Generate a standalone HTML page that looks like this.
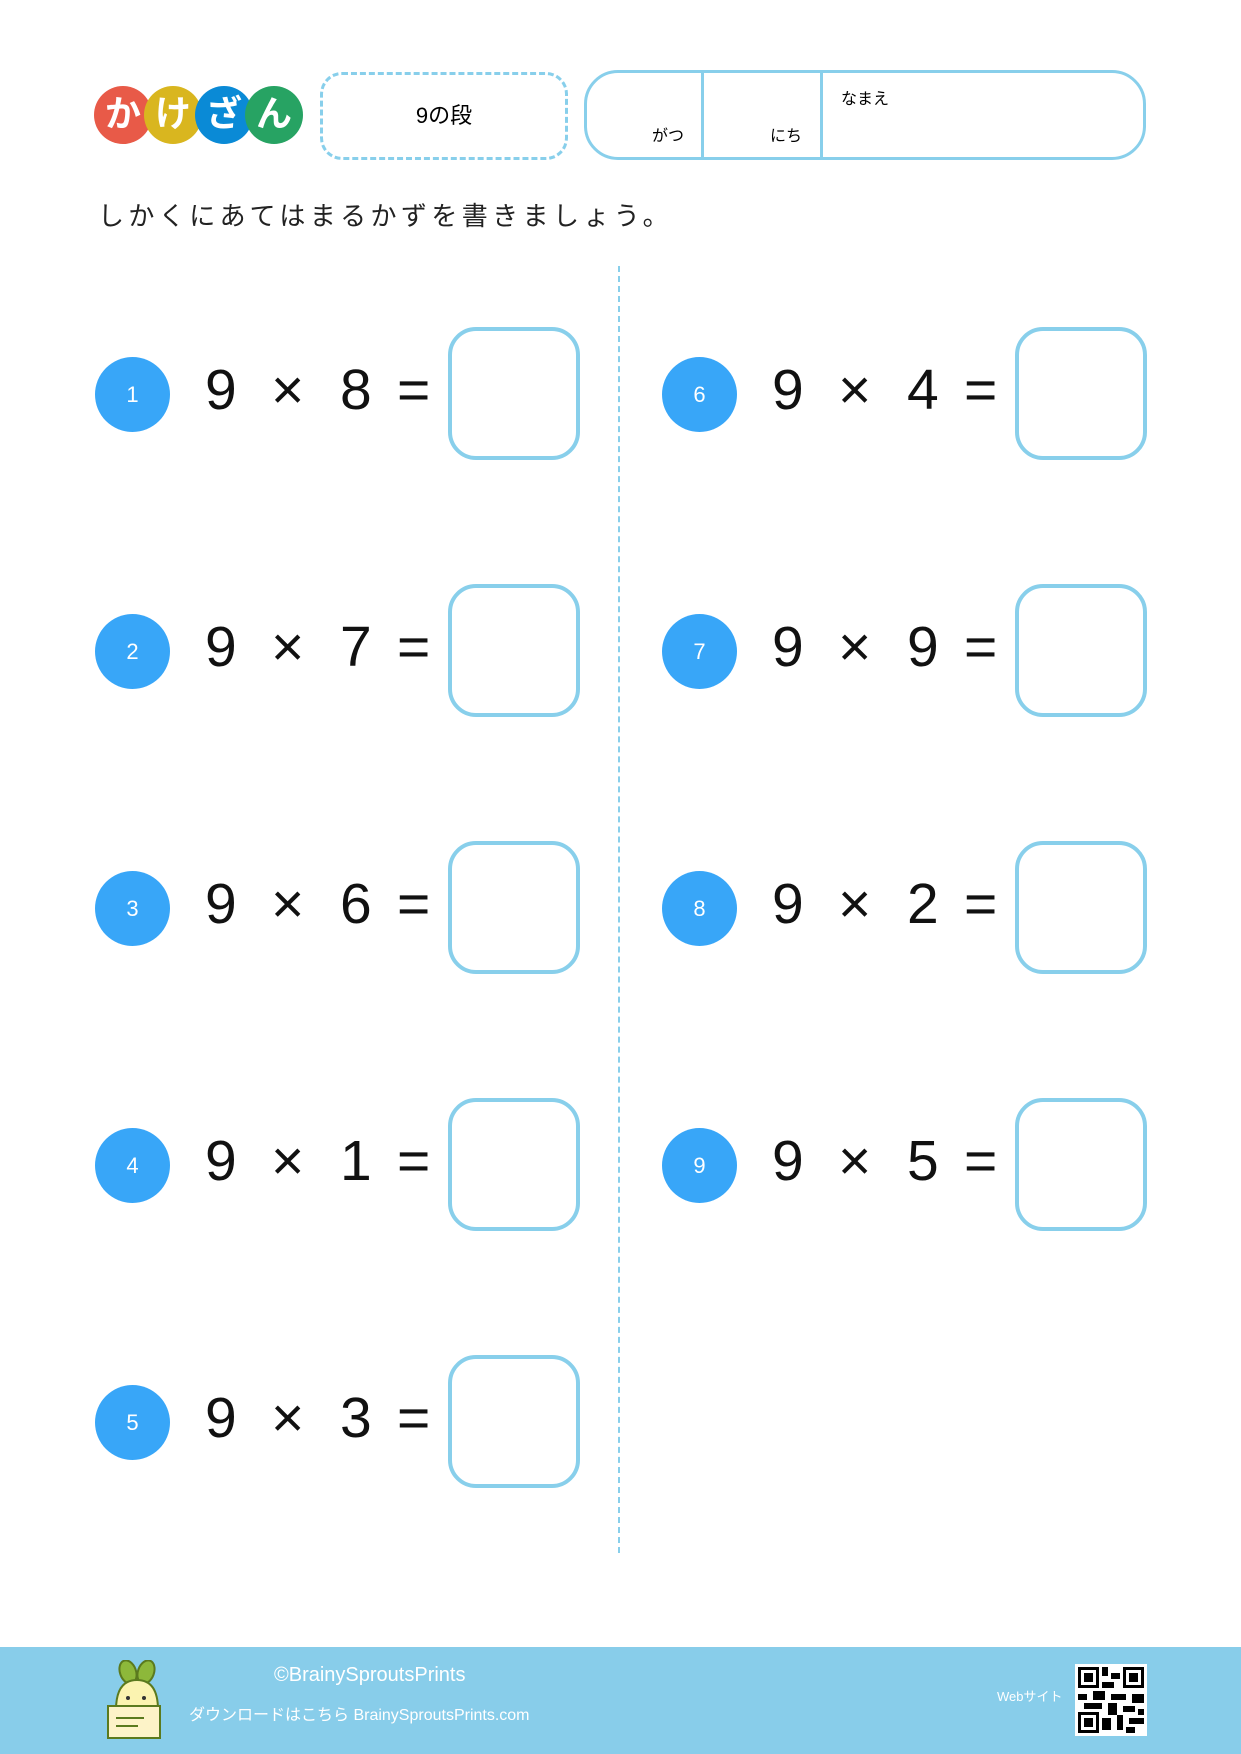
<!DOCTYPE html>
<html><head><meta charset="utf-8"><style>
*{margin:0;padding:0;box-sizing:border-box}
body{width:1241px;height:1754px;position:relative;background:#fff;font-family:"Liberation Sans","Noto Sans CJK JP",sans-serif;overflow:hidden}
.a{position:absolute}
.lc{position:absolute;width:58px;height:58px;border-radius:50%;color:#fff;font-size:36px;font-weight:bold;text-align:center;line-height:56px;top:86px}
.num{position:absolute;width:75px;height:75px;border-radius:50%;background:#38a6f8;color:#fff;font-size:22px;text-align:center;line-height:75px}
.box{position:absolute;width:132px;height:133px;border:4px solid #88cfeb;border-radius:28px}
.ex{position:absolute;font-size:57px;color:#111;line-height:1}
</style></head><body>
<div class="lc" style="left:94px;background:#e85a48">か</div>
<div class="lc" style="left:144px;background:#d9b61f">け</div>
<div class="lc" style="left:195px;background:#0a8ad6">ざ</div>
<div class="lc" style="left:245px;background:#27a363">ん</div>
<div class="a" style="left:320px;top:72px;width:248px;height:88px;border:3px dashed #88cfeb;border-radius:22px;text-align:center;line-height:82px;font-size:22px">9の段</div>
<div class="a" style="left:584px;top:70px;width:562px;height:90px;border:3px solid #88cfeb;border-radius:34px"></div>
<div class="a" style="left:701px;top:72px;width:3px;height:86px;background:#88cfeb"></div>
<div class="a" style="left:820px;top:72px;width:3px;height:86px;background:#88cfeb"></div>
<div class="a" style="left:652px;top:122px;font-size:16px">がつ</div>
<div class="a" style="left:770px;top:122px;font-size:16px">にち</div>
<div class="a" style="left:841px;top:85px;font-size:16px">なまえ</div>
<div class="a" style="left:98px;top:196px;font-size:26px;letter-spacing:4.4px;color:#222">しかくにあてはまるかずを書きましょう。</div>
<div class="a" style="left:618px;top:266px;height:1287px;border-left:2px dashed #88cfeb"></div>

<!-- left column -->
<div class="num" style="left:95px;top:357px">1</div><div class="ex" style="left:205px;top:362px">9</div><div class="ex" style="left:271px;top:362px">×</div><div class="ex" style="left:340px;top:362px">8</div><div class="ex" style="left:397px;top:362px">=</div><div class="box" style="left:448px;top:327px"></div>
<div class="num" style="left:95px;top:614px">2</div><div class="ex" style="left:205px;top:619px">9</div><div class="ex" style="left:271px;top:619px">×</div><div class="ex" style="left:340px;top:619px">7</div><div class="ex" style="left:397px;top:619px">=</div><div class="box" style="left:448px;top:584px"></div>
<div class="num" style="left:95px;top:871px">3</div><div class="ex" style="left:205px;top:876px">9</div><div class="ex" style="left:271px;top:876px">×</div><div class="ex" style="left:340px;top:876px">6</div><div class="ex" style="left:397px;top:876px">=</div><div class="box" style="left:448px;top:841px"></div>
<div class="num" style="left:95px;top:1128px">4</div><div class="ex" style="left:205px;top:1133px">9</div><div class="ex" style="left:271px;top:1133px">×</div><div class="ex" style="left:340px;top:1133px">1</div><div class="ex" style="left:397px;top:1133px">=</div><div class="box" style="left:448px;top:1098px"></div>
<div class="num" style="left:95px;top:1385px">5</div><div class="ex" style="left:205px;top:1390px">9</div><div class="ex" style="left:271px;top:1390px">×</div><div class="ex" style="left:340px;top:1390px">3</div><div class="ex" style="left:397px;top:1390px">=</div><div class="box" style="left:448px;top:1355px"></div>

<!-- right column -->
<div class="num" style="left:662px;top:357px">6</div><div class="ex" style="left:772px;top:362px">9</div><div class="ex" style="left:838px;top:362px">×</div><div class="ex" style="left:907px;top:362px">4</div><div class="ex" style="left:964px;top:362px">=</div><div class="box" style="left:1015px;top:327px"></div>
<div class="num" style="left:662px;top:614px">7</div><div class="ex" style="left:772px;top:619px">9</div><div class="ex" style="left:838px;top:619px">×</div><div class="ex" style="left:907px;top:619px">9</div><div class="ex" style="left:964px;top:619px">=</div><div class="box" style="left:1015px;top:584px"></div>
<div class="num" style="left:662px;top:871px">8</div><div class="ex" style="left:772px;top:876px">9</div><div class="ex" style="left:838px;top:876px">×</div><div class="ex" style="left:907px;top:876px">2</div><div class="ex" style="left:964px;top:876px">=</div><div class="box" style="left:1015px;top:841px"></div>
<div class="num" style="left:662px;top:1128px">9</div><div class="ex" style="left:772px;top:1133px">9</div><div class="ex" style="left:838px;top:1133px">×</div><div class="ex" style="left:907px;top:1133px">5</div><div class="ex" style="left:964px;top:1133px">=</div><div class="box" style="left:1015px;top:1098px"></div>

<!-- footer -->
<div class="a" style="left:0;top:1647px;width:1241px;height:107px;background:#88cdea"></div>
<svg class="a" style="left:104px;top:1660px" width="66" height="80" viewBox="0 0 66 80">
<ellipse cx="24" cy="12" rx="8" ry="12" fill="#8db83a" stroke="#5b7a1e" stroke-width="2" transform="rotate(-20 24 12)"/>
<ellipse cx="42" cy="12" rx="8" ry="12" fill="#8db83a" stroke="#5b7a1e" stroke-width="2" transform="rotate(20 42 12)"/>
<path d="M12 50 Q12 20 33 20 Q54 20 54 50 Z" fill="#fbf3b0" stroke="#5b7a1e" stroke-width="2"/>
<rect x="4" y="46" width="52" height="32" fill="#fdf3c8" stroke="#5b7a1e" stroke-width="2"/>
<circle cx="24" cy="38" r="2" fill="#333"/><circle cx="40" cy="38" r="2" fill="#333"/>
<line x1="12" y1="58" x2="40" y2="58" stroke="#5b7a1e" stroke-width="2"/><line x1="12" y1="66" x2="34" y2="66" stroke="#5b7a1e" stroke-width="2"/>
</svg>
<div class="a" style="left:274px;top:1664px;font-size:20px;color:#fff">©BrainySproutsPrints</div>
<div class="a" style="left:189px;top:1701px;font-size:16px;color:#fff">ダウンロードはこちら BrainySproutsPrints.com</div>
<div class="a" style="left:997px;top:1686px;font-size:13px;color:#fff">Webサイト</div>
<svg class="a" style="left:1075px;top:1664px" width="72" height="72" viewBox="0 0 24 24">
<rect width="24" height="24" fill="#fff"/>
<g fill="#000">
<rect x="1" y="1" width="7" height="7"/><rect x="16" y="1" width="7" height="7"/><rect x="1" y="16" width="7" height="7"/>
</g>
<g fill="#fff"><rect x="2" y="2" width="5" height="5"/><rect x="17" y="2" width="5" height="5"/><rect x="2" y="17" width="5" height="5"/></g>
<g fill="#000"><rect x="3" y="3" width="3" height="3"/><rect x="18" y="3" width="3" height="3"/><rect x="3" y="18" width="3" height="3"/>
<rect x="9" y="1" width="2" height="3"/><rect x="12" y="3" width="3" height="2"/><rect x="9" y="6" width="4" height="2"/><rect x="1" y="10" width="3" height="2"/><rect x="6" y="9" width="4" height="3"/><rect x="12" y="10" width="5" height="2"/><rect x="19" y="10" width="4" height="3"/><rect x="3" y="13" width="6" height="2"/><rect x="11" y="13" width="3" height="4"/><rect x="16" y="14" width="4" height="2"/><rect x="9" y="18" width="3" height="4"/><rect x="14" y="17" width="2" height="5"/><rect x="18" y="18" width="5" height="2"/><rect x="17" y="21" width="3" height="2"/><rect x="21" y="15" width="2" height="2"/></g>
</svg>
</body></html>
